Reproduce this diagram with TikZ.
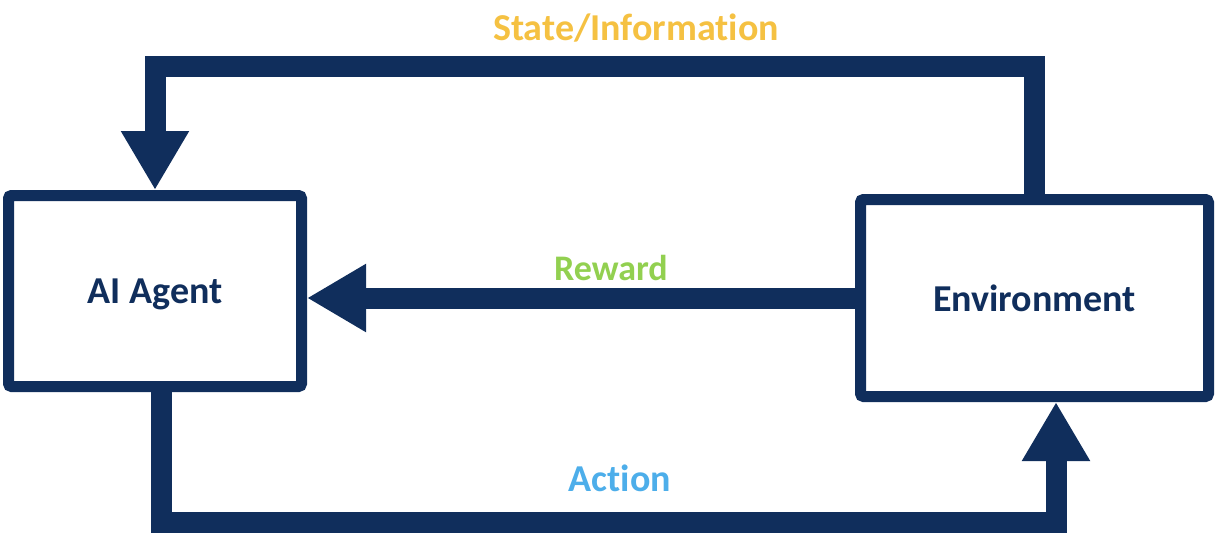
\documentclass[tikz,border=0pt]{standalone}
\usepackage{fontspec}
\setmainfont{Carlito}[Ligatures=NoCommon]
\usetikzlibrary{arrows.meta, positioning, calc}
\definecolor{NavyLine}{HTML}{102E5C}
\definecolor{StateGold}{HTML}{F5C142}
\definecolor{RewardGreen}{HTML}{92D050}
\definecolor{ActionBlue}{HTML}{4DAEEA}

\begin{document}
\begin{tikzpicture}[x=0.5pt, y=-0.5pt,
    box/.style={draw=NavyLine, line width=5.5pt, rounded corners=1.5pt, fill=white,
                text=NavyLine, font=\fontsize{19}{22}\selectfont\bfseries},
    flow/.style={draw=NavyLine, line width=10.5pt,
                 -{Triangle[width=32pt, length=29.5pt]}},
    lbl/.style={font=\fontsize{19}{22}\selectfont\bfseries}]
    \useasboundingbox (0,0) rectangle (1216,546);

    % Boxes
    \node[box, text depth=0pt, minimum width=146.5pt, minimum height=95.5pt] (agent) at (155,291) {AI Agent};
    \node[box, minimum width=174pt, minimum height=98.5pt] (env) at (1034.5,298) {Environment};

    % State loop over the top
    \coordinate (stateL) at (155,66);
    \draw[flow] (env.north) |- (stateL) -- (agent.north);
    \node[lbl, text=StateGold] (state) at (636,28) {State/Information};

    % Reward
    \draw[flow] (env.west) -- (env.west -| agent.east);
    \node[lbl, text=RewardGreen, font=\fontsize{18}{21}\selectfont\bfseries] (reward) at (611,268) {Reward};

    % Action loop underneath
    \coordinate (actL) at (161,522);
    \coordinate (actR) at (1056,522);
    \draw[flow] (agent.south -| actL) -- (actL) -- (actR) -- (actR |- env.south);
    \node[lbl, text=ActionBlue] (action) at (620,478) {Action};
\end{tikzpicture}
\end{document}
